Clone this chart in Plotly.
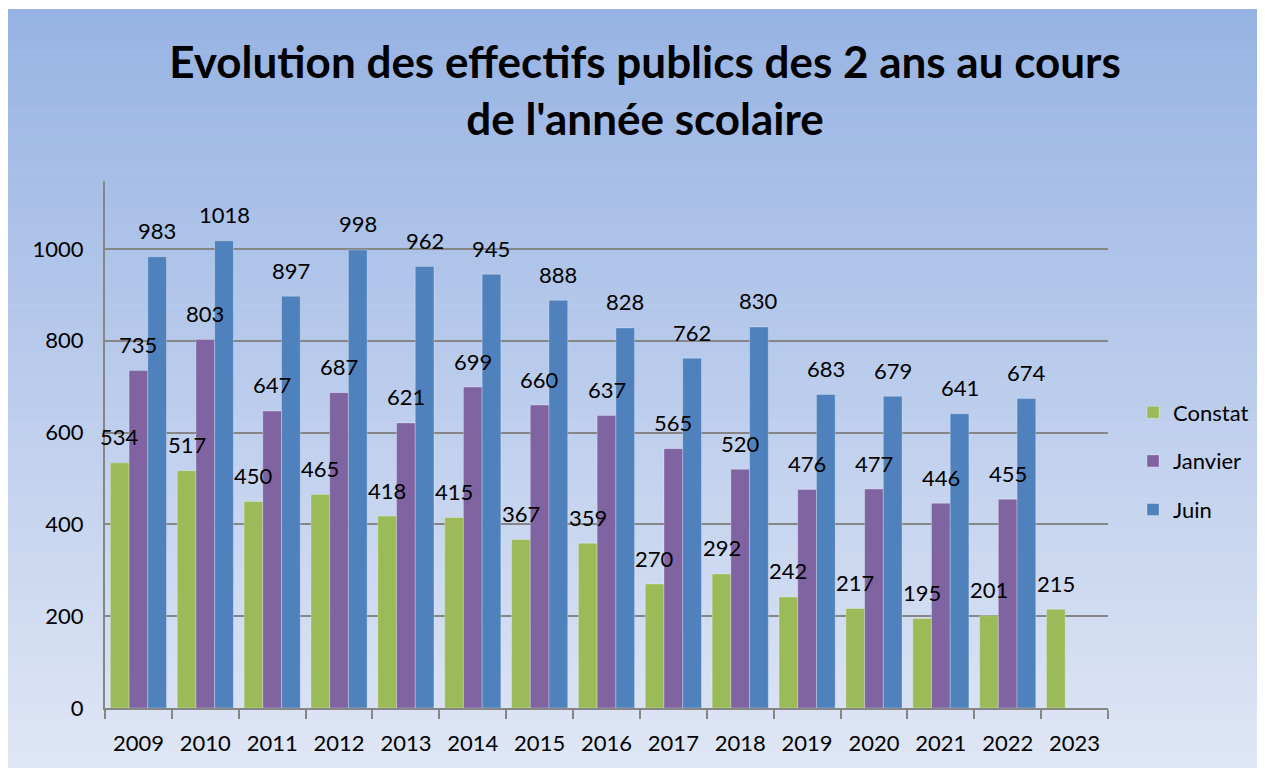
import plotly.graph_objects as go

# ---- data ----
years = [str(y) for y in range(2009, 2024)]
constat = [534, 517, 450, 465, 418, 415, 367, 359, 270, 292, 242, 217, 195, 201, 215]
janvier = [735, 803, 647, 687, 621, 699, 660, 637, 565, 520, 476, 477, 446, 455, None]
juin = [983, 1018, 897, 998, 962, 945, 888, 828, 762, 830, 683, 679, 641, 674, None]
series_names = ["Constat", "Janvier", "Juin"]
y_ticks = [0, 200, 400, 600, 800, 1000]

# ---- style ----
colors = ["#9bbb59", "#8064a2", "#4f81bd"]
FONT = "Lato"
W, H = 1257, 760          # page body has an 8px margin
L, R, T, B = 97, 157, 173, 60
BARGAP = 0.16
YMAX = 1148

fig = go.Figure()
for name, vals, col in zip(series_names, [constat, janvier, juin], colors):
    fig.add_trace(go.Bar(
        x=years, y=vals, name=name, marker_color=col,
        marker_line=dict(color="rgba(255,255,255,0.35)", width=0.8),
        legendgroup=name,
    ))

# data labels (x given as category index)
plot_w = W - L - R
plot_h = H - T - B
bar_px = plot_w / len(years) * (1 - BARGAP) / 3
annotations = []
for i, vals in enumerate([constat, janvier, juin]):
    for idx, v in enumerate(vals):
        if v is None:
            continue
        annotations.append(dict(
            x=idx, y=v, text=str(v), showarrow=False, xref="x", yref="y",
            xshift=(i - 1) * bar_px, yshift=26, yanchor="middle",
            font=dict(family=FONT, size=22, color="#000000"),
        ))

# figure px -> paper coords
def fy(py):
    return (H - B - py) / plot_h
def fx(px):
    return (px - L) / plot_w

# gradient background
top_rgb = (0x97, 0xb3, 0xe3)
bot_rgb = (0xdf, 0xe6, 0xf5)
y0_px, y1_px = 1, H
x0_px, x1_px = 0, W
N = 90
shapes = []
for k in range(N):
    a = y0_px + (y1_px - y0_px) * k / N
    b = y0_px + (y1_px - y0_px) * (k + 1) / N + 0.6
    t = (k + 0.5) / N
    c = tuple(round(top_rgb[j] + (bot_rgb[j] - top_rgb[j]) * t) for j in range(3))
    shapes.append(dict(
        type="rect", xref="paper", yref="paper", layer="below",
        x0=fx(x0_px), x1=fx(x1_px),
        y0=fy(min(b, y1_px)), y1=fy(a),
        fillcolor="rgb(%d,%d,%d)" % c, line=dict(width=0),
    ))

fig.update_layout(
    width=W, height=H,
    margin=dict(l=L, r=R, t=T, b=B, autoexpand=False),
    paper_bgcolor="white",
    plot_bgcolor="rgba(0,0,0,0)",
    barmode="group", bargap=BARGAP, bargroupgap=0,
    font=dict(family=FONT, size=22, color="#000000"),
    title=dict(
        text="<b>Evolution des effectifs publics des 2 ans au cours<br>de l'année scolaire</b>",
        x=fx(637), xref="paper", xanchor="center",
        y=1 - 70 / H, yref="container", yanchor="middle",
        font=dict(family=FONT, size=44, color="#000000"),
    ),
    legend=dict(
        x=fx(1125), y=fy(453), xanchor="left", yanchor="middle",
        font=dict(family=FONT, size=22), bgcolor="rgba(0,0,0,0)",
        traceorder="grouped", tracegroupgap=17,
    ),
    annotations=annotations,
    shapes=shapes,
    xaxis=dict(
        type="category", range=[-0.5, len(years) - 0.5], automargin=False,
        showgrid=False, showline=True, linecolor="#868686", linewidth=2,
        ticks="outside", tickson="boundaries", ticklen=9, tickwidth=2, tickcolor="#868686",
        tickfont=dict(family=FONT, size=22), ticklabelstandoff=15, tickangle=0,
    ),
    yaxis=dict(
        range=[0, YMAX], tickvals=y_ticks, automargin=False,
        showgrid=True, gridcolor="#868686", gridwidth=2,
        showline=True, linecolor="#868686", linewidth=2, zeroline=False,
        ticks="", tickfont=dict(family=FONT, size=22), ticklabelstandoff=15,
    ),
)

fig.write_html("out.html")
